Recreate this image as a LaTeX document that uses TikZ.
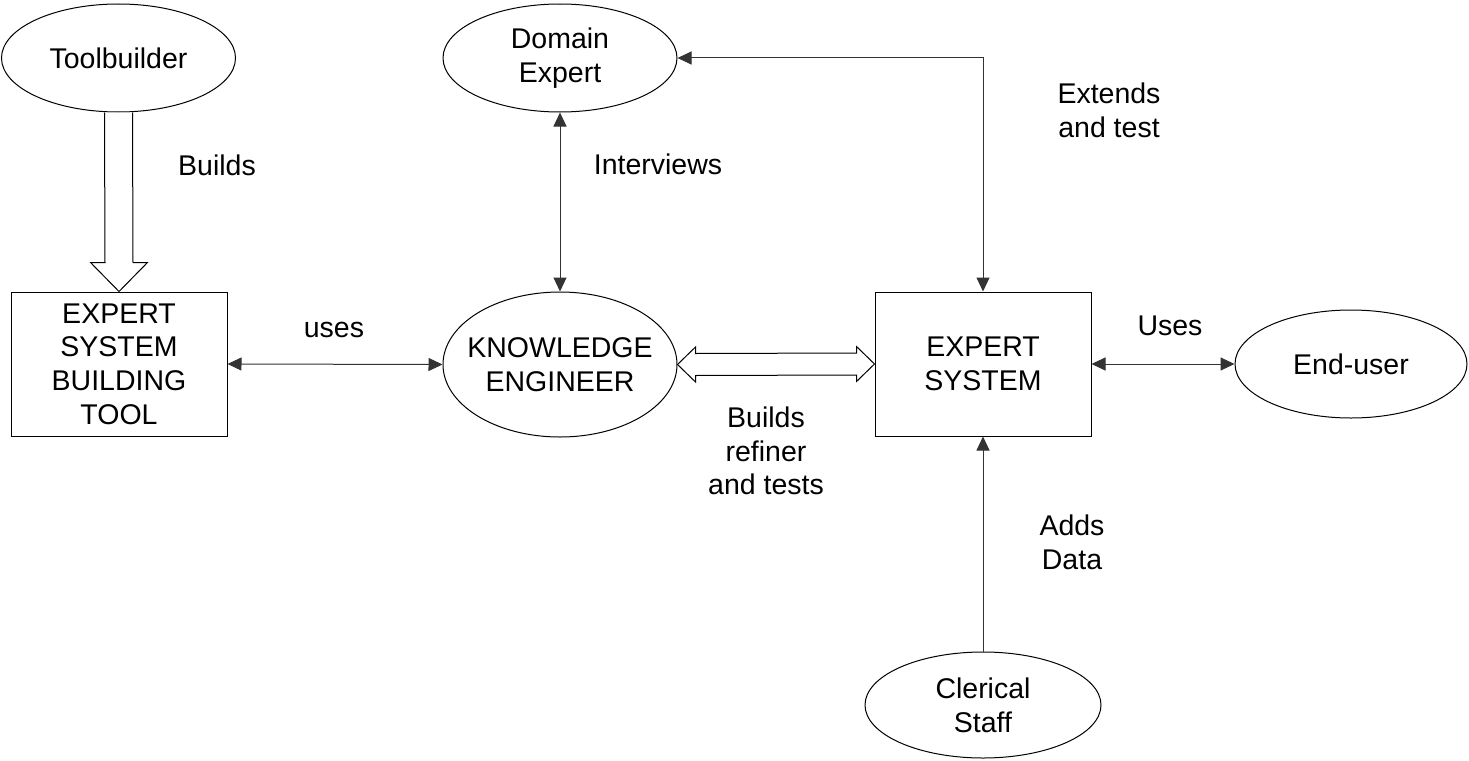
\documentclass[tikz,border=0pt]{standalone}
\usepackage{fontspec}
\setmainfont{Liberation Sans}
\usetikzlibrary{shapes.geometric,arrows.meta,calc}

\tikzset{
  every node/.style={font=\fontsize{28.5}{33.7}\selectfont, align=center},
  ell/.style={draw, line width=1, ellipse, minimum width=234, minimum height=108, inner sep=0},
  box/.style={draw, line width=1, rectangle, minimum width=216, minimum height=144, inner sep=0},
  conn/.style={line width=1, draw=black!80, {Triangle[length=14,width=13]}-{Triangle[length=14,width=13]}},
  oneway/.style={line width=1, draw=black!80, -{Triangle[length=14,width=13]}},
  hollow/.style={draw, line width=1, fill=white, line join=miter},
  lbl/.style={inner sep=0}
}

\begin{document}
\begin{tikzpicture}[x=1pt, y=-1pt]
  \useasboundingbox (0,0) rectangle (1469,760);

  % actors and systems
  \node[ell] (tb) at (118.5,58) {Toolbuilder};
  \node[ell] (de) at (560,58) {Domain\\Expert};
  \node[box] (esbt) at (119,364) {EXPERT\\SYSTEM\\BUILDING\\TOOL};
  \node[ell, minimum height=145, inner xsep=-12] (ke) at (560,364.5) {KNOWLEDGE\\ENGINEER};
  \node[box] (es) at (983,364) {EXPERT\\SYSTEM};
  \node[ell, minimum width=232] (eu) at (1351,364) {End-user};
  \node[ell, minimum width=236, minimum height=106] (cs) at (983,705) {Clerical\\Staff};

  % wide hollow arrow: toolbuilder builds the tool
  \draw[hollow] ($(tb.south)+(-14,0)$) -- ($(esbt.north)+(-14,-29)$)
    -- ($(esbt.north)+(-28.5,-29)$) -- (esbt.north)
    -- ($(esbt.north)+(28.5,-29)$) -- ($(esbt.north)+(14,-29)$)
    -- ($(tb.south)+(14,0)$);

  % wide hollow double arrow between engineer and expert system
  \draw[hollow] (ke.east) -- ++(18,-17.5) -- ++(0,6.5)
    -- ($(es.west)+(-18,-11)$) -- ++(0,-6.5) -- (es.west)
    -- ++(-18,17.5) -- ++(0,-6.5)
    -- ($(ke.east)+(18,11)$) -- ++(0,6.5) -- cycle;

  % thin connectors
  \draw[conn] (esbt.east) -- (ke.west);
  \draw[conn] (de.south) -- (ke.north);
  \draw[conn] (es.north) |- (de.east);
  \draw[conn] (es.east) -- (eu.west);
  \draw[oneway] (cs.north) -- (es.south);

  % connector labels
  \node[lbl, anchor=base] (lbuilds) at (217,175) {Builds};
  \node[lbl, anchor=base] (linterviews) at (658,174) {Interviews};
  \node[lbl, anchor=base] (luses) at (334,337) {uses};
  \node[lbl, anchor=base] (lUses) at (1170,335) {Uses};
  \node[lbl] (lextends) at (1109,110) {Extends\\and test};
  \node[lbl] (lrefine) at (766,451) {Builds\\refiner\\and tests};
  \node[lbl] (ladds) at (1072,542) {Adds\\Data};
\end{tikzpicture}
\end{document}
